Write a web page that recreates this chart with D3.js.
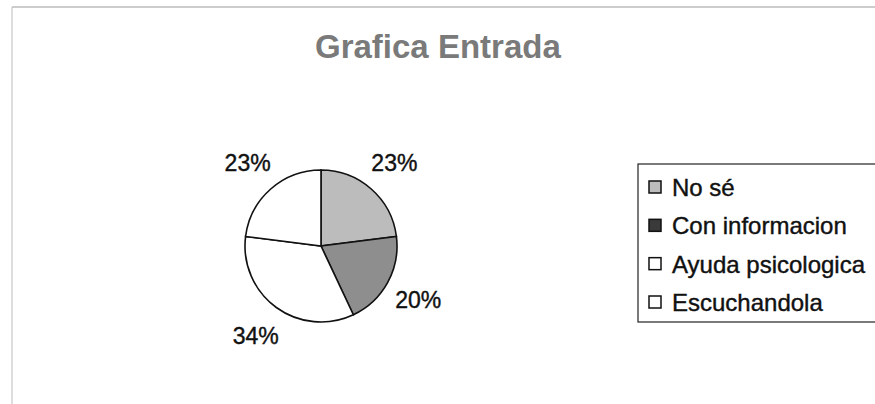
<!DOCTYPE html>
<html>
<head>
<meta charset="utf-8">
<script src="https://cdn.jsdelivr.net/npm/d3@7"></script>
<style>
  body { margin: 0; background: #fff; }
  svg { display: block; font-family: "Liberation Sans", Arial, sans-serif; }
</style>
</head>
<body>
<div id="chart"></div>
<script>
// data
var categories = ["No sé", "Con informacion", "Ayuda psicologica", "Escuchandola"];
var values = [23, 20, 34, 23];
var labels = ["23%", "20%", "34%", "23%"];
var fills = ["#bcbcbc", "#8e8e8e", "#ffffff", "#ffffff"];

var width = 875, height = 404;

var svg = d3.select("#chart")
	.append("svg")
	.attr("width", width)
	.attr("height", height);

// faint frame of the scanned page
svg.append("line")
	.attr("x1", 12).attr("x2", width).attr("y1", 7).attr("y2", 7)
	.attr("stroke", "#999").attr("stroke-width", 1.2);
svg.append("line")
	.attr("x1", 12).attr("x2", 12).attr("y1", 7).attr("y2", height)
	.attr("stroke", "#bbb").attr("stroke-width", 1);

// title
svg.append("text")
	.attr("x", 315)
	.attr("y", 58)
	.attr("font-size", 33)
	.attr("font-weight", "bold")
	.attr("fill", "#7a7a7a")
	.text("Grafica Entrada");

// pie
var cx = 321, cy = 246, r = 76;
var pie = d3.pie().sort(null).value(function (d) { return d; });
var arc = d3.arc().innerRadius(0).outerRadius(r);
var labelArc = d3.arc().innerRadius(r * 1.46).outerRadius(r * 1.46);

var g = svg.append("g").attr("transform", "translate(" + cx + "," + cy + ")");
var arcs = pie(values);

g.selectAll("path")
	.data(arcs)
	.enter().append("path")
	.attr("d", arc)
	.attr("fill", function (d, i) { return fills[i]; })
	.attr("stroke", "#111")
	.attr("stroke-width", 1.6);

g.selectAll("text")
	.data(arcs)
	.enter().append("text")
	.attr("transform", function (d) { return "translate(" + labelArc.centroid(d) + ")"; })
	.attr("text-anchor", "middle")
	.attr("dy", "0.36em")
	.attr("font-size", 23)
	.attr("fill", "#111")
	.attr("stroke", "#111").attr("stroke-width", 0.4)
	.text(function (d, i) { return labels[i]; });

// legend
var lx = 638, ly = 164;
svg.append("rect")
	.attr("x", lx).attr("y", ly)
	.attr("width", 260).attr("height", 158)
	.attr("fill", "#fff")
	.attr("stroke", "#222").attr("stroke-width", 1.2);

var rowY = d3.scalePoint().domain(categories).range([187, 302]);

var item = svg.selectAll("g.item")
	.data(categories)
	.enter().append("g")
	.attr("class", "item")
	.attr("transform", function (d) { return "translate(" + lx + "," + rowY(d) + ")"; });

item.append("rect")
	.attr("x", 11).attr("y", -6)
	.attr("width", 12).attr("height", 12)
	.attr("fill", function (d, i) { return i == 1 ? "#3a3a3a" : fills[i]; })
	.attr("stroke", "#111").attr("stroke-width", 1.5);

item.append("text")
	.attr("x", 34)
	.attr("y", 9)
	.attr("font-size", 24)
	.attr("fill", "#111")
	.attr("stroke", "#111").attr("stroke-width", 0.4)
	.text(function (d) { return d; });
</script>
</body>
</html>
